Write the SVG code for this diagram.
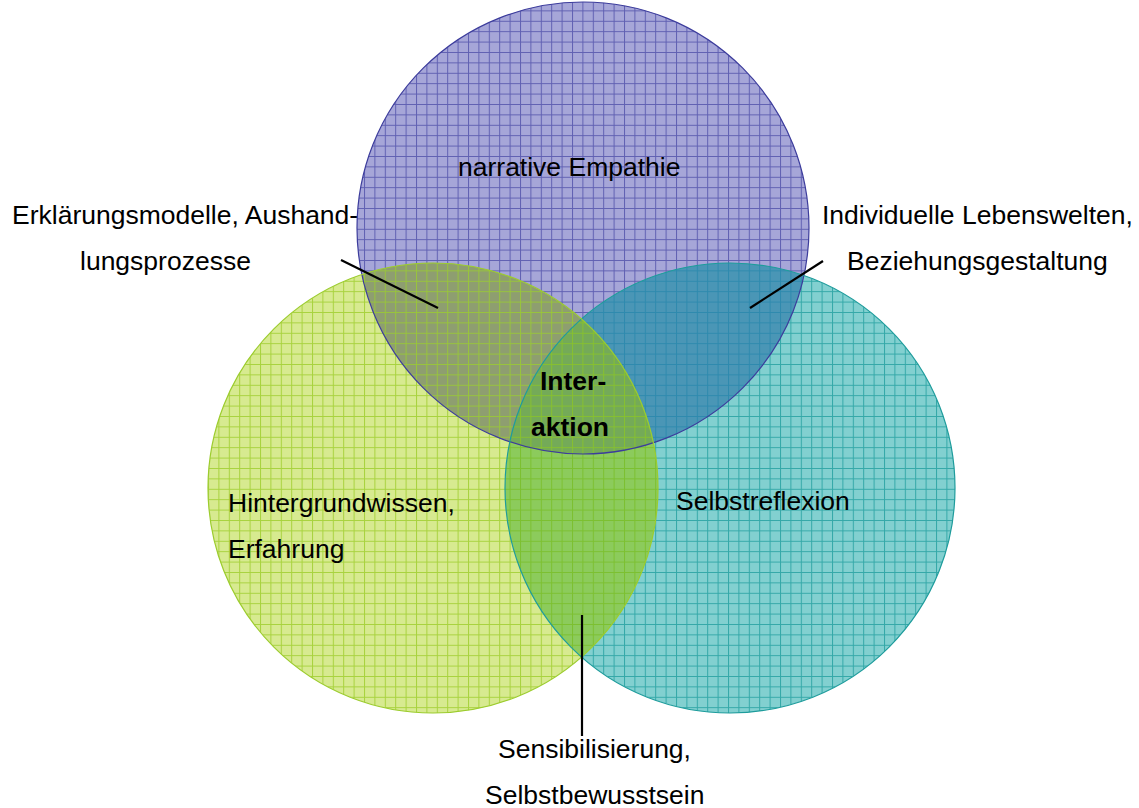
<svg xmlns="http://www.w3.org/2000/svg" width="1139" height="808" viewBox="0 0 1139 808">
<style>
text{font-family:"Liberation Sans",Arial,sans-serif;font-size:26.5px;fill:#000}
.b{font-weight:bold}
.lead{stroke:#000;stroke-width:2.2;fill:none}
</style>
<defs>
<pattern id="pP" width="10.4" height="10.4" patternUnits="userSpaceOnUse"><rect width="10.4" height="10.4" fill="#a6a6d8"/><path d="M0 0.5H10.4M0.5 0V10.4" stroke="#6060b2" stroke-width="1"/></pattern>
<pattern id="pG" width="10.4" height="10.4" patternUnits="userSpaceOnUse"><rect width="10.4" height="10.4" fill="#d7ea90"/><path d="M0 0.5H10.4M0.5 0V10.4" stroke="#a8d23e" stroke-width="1"/></pattern>
<pattern id="pT" width="10.4" height="10.4" patternUnits="userSpaceOnUse"><rect width="10.4" height="10.4" fill="#82d0d0"/><path d="M0 0.5H10.4M0.5 0V10.4" stroke="#34a8a8" stroke-width="1"/></pattern>
<pattern id="pPG" width="10.4" height="10.4" patternUnits="userSpaceOnUse"><rect width="10.4" height="10.4" fill="#8e9e70"/><path d="M0 0.5H10.4M0.5 0V10.4" stroke="#98c43c" stroke-width="1"/></pattern>
<pattern id="pPT" width="10.4" height="10.4" patternUnits="userSpaceOnUse"><rect width="10.4" height="10.4" fill="#4a96b6"/><path d="M0 0.5H10.4M0.5 0V10.4" stroke="#2e8aae" stroke-width="1"/></pattern>
<pattern id="pGT" width="10.4" height="10.4" patternUnits="userSpaceOnUse"><rect width="10.4" height="10.4" fill="#8ccb5c"/><path d="M0 0.5H10.4M0.5 0V10.4" stroke="#7cc030" stroke-width="1"/></pattern>
<pattern id="pPGT" width="10.4" height="10.4" patternUnits="userSpaceOnUse"><rect width="10.4" height="10.4" fill="#74aa58"/><path d="M0 0.5H10.4M0.5 0V10.4" stroke="#86c030" stroke-width="1"/></pattern>
<clipPath id="cP"><circle cx="583" cy="228" r="226"/></clipPath>
<clipPath id="cT"><circle cx="730" cy="488" r="225"/></clipPath>
</defs>
<rect width="1139" height="808" fill="#fff"/>
<g id="fills">
<circle cx="583" cy="228" r="226" fill="url(#pP)"/>
<circle cx="730" cy="488" r="225" fill="url(#pT)"/>
<circle cx="433" cy="488" r="225" fill="url(#pG)"/>
<g clip-path="url(#cP)"><circle cx="433" cy="488" r="225" fill="url(#pPG)"/><circle cx="730" cy="488" r="225" fill="url(#pPT)"/></g>
<g clip-path="url(#cT)"><circle cx="433" cy="488" r="225" fill="url(#pGT)"/></g>
<g clip-path="url(#cP)"><g clip-path="url(#cT)"><circle cx="433" cy="488" r="225" fill="url(#pPGT)"/></g></g>
</g>
<g id="node-empathie">
<circle cx="583" cy="228" r="226" fill="none" stroke="#3c3c9c" stroke-width="1.2"/>
<text x="458" y="176">narrative Empathie</text>
</g>
<g id="node-selbstreflexion">
<circle cx="730" cy="488" r="225" fill="none" stroke="#1e9c9c" stroke-width="1.2"/>
<text x="676" y="510">Selbstreflexion</text>
</g>
<g id="node-hintergrund">
<circle cx="433" cy="488" r="225" fill="none" stroke="#9ccc2e" stroke-width="1.2"/>
<text x="228" y="512">Hintergrundwissen,</text>
<text x="228" y="558">Erfahrung</text>
</g>
<g id="node-interaktion">
<text class="b" x="540" y="390">Inter-</text>
<text class="b" x="531" y="436">aktion</text>
</g>
<g id="connectors">
<line class="lead" x1="341" y1="260" x2="438" y2="308"/>
<line class="lead" x1="823" y1="261" x2="750" y2="308"/>
<line class="lead" x1="582" y1="615" x2="582" y2="736"/>
</g>
<g id="label-erklaerung">
<text x="12" y="224">Erklärungsmodelle, Aushand-</text>
<text x="80" y="270">lungsprozesse</text>
</g>
<g id="label-lebenswelten">
<text x="822" y="224">Individuelle Lebenswelten,</text>
<text x="847" y="270">Beziehungsgestaltung</text>
</g>
<g id="label-sensibilisierung">
<text x="498" y="758">Sensibilisierung,</text>
<text x="485" y="804">Selbstbewusstsein</text>
</g>
</svg>
